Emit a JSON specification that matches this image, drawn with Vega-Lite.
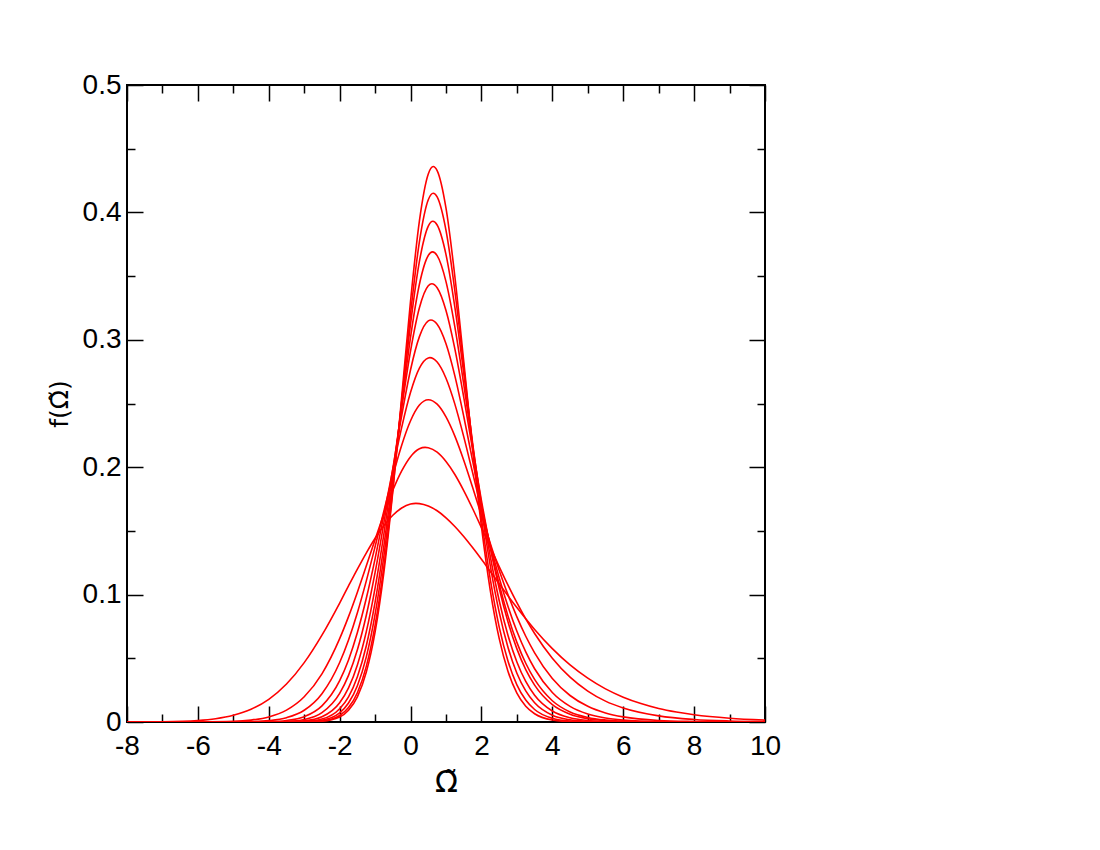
{
  "$schema": "https://vega.github.io/schema/vega-lite/v6.json",
  "autosize": {"type": "none"},
  "padding": {"left": 127, "top": 85, "right": 335, "bottom": 128},
  "width": 638,
  "height": 637,
  "background": "white",
  "config": {
    "view": {"stroke": "black", "strokeWidth": 2},
    "font": "Liberation Sans",
    "axis": {"grid": false, "labelFont": "Liberation Sans", "titleFont": "DejaVu Sans", "labelColor": "black", "titleColor": "black", "tickColor": "black", "domain": false, "labelFlush": false, "labelBound": false, "labelOverlap": false, "titleFontWeight": "normal"}
  },
  "data": {"values": [
    {"c":1,"x":-8,"y":0},{"c":1,"x":-3.5,"y":0},{"c":1,"x":-3,"y":0.0001},{"c":1,"x":-2.5,"y":0.0006},{"c":1,"x":-2,"y":0.0039},{"c":1,"x":-1.75,"y":0.0092},{"c":1,"x":-1.5,"y":0.0197},{"c":1,"x":-1.25,"y":0.039},{"c":1,"x":-1,"y":0.0708},{"c":1,"x":-0.75,"y":0.1181},{"c":1,"x":-0.5,"y":0.1811},{"c":1,"x":-0.25,"y":0.2552},{"c":1,"x":0,"y":0.3305},{"c":1,"x":0.25,"y":0.3934},{"c":1,"x":0.5,"y":0.4302},{"c":1,"x":0.64,"y":0.436},{"c":1,"x":0.75,"y":0.4328},{"c":1,"x":1,"y":0.4033},{"c":1,"x":1.25,"y":0.3497},{"c":1,"x":1.5,"y":0.2832},{"c":1,"x":1.75,"y":0.2149},{"c":1,"x":2,"y":0.1533},{"c":1,"x":2.25,"y":0.1032},{"c":1,"x":2.5,"y":0.0656},{"c":1,"x":2.75,"y":0.0396},{"c":1,"x":3,"y":0.0227},{"c":1,"x":3.25,"y":0.0124},{"c":1,"x":3.5,"y":0.0065},{"c":1,"x":4,"y":0.0016},{"c":1,"x":4.5,"y":0.0003},{"c":1,"x":5,"y":0.0001},{"c":1,"x":5.5,"y":0},{"c":1,"x":10,"y":0},
    {"c":2,"x":-8,"y":0},{"c":2,"x":-3.5,"y":0},{"c":2,"x":-3,"y":0.0001},{"c":2,"x":-2.5,"y":0.0008},{"c":2,"x":-2,"y":0.0051},{"c":2,"x":-1.75,"y":0.0113},{"c":2,"x":-1.5,"y":0.023},{"c":2,"x":-1.25,"y":0.0435},{"c":2,"x":-1,"y":0.076},{"c":2,"x":-0.75,"y":0.1226},{"c":2,"x":-0.5,"y":0.1827},{"c":2,"x":-0.25,"y":0.2517},{"c":2,"x":0,"y":0.3205},{"c":2,"x":0.25,"y":0.377},{"c":2,"x":0.5,"y":0.4099},{"c":2,"x":0.64,"y":0.415},{"c":2,"x":0.75,"y":0.4121},{"c":2,"x":1,"y":0.3859},{"c":2,"x":1.25,"y":0.3383},{"c":2,"x":1.5,"y":0.2788},{"c":2,"x":1.75,"y":0.2169},{"c":2,"x":2,"y":0.1598},{"c":2,"x":2.25,"y":0.1119},{"c":2,"x":2.5,"y":0.0747},{"c":2,"x":2.75,"y":0.0477},{"c":2,"x":3,"y":0.0292},{"c":2,"x":3.25,"y":0.0172},{"c":2,"x":3.5,"y":0.0098},{"c":2,"x":4,"y":0.0029},{"c":2,"x":4.5,"y":0.0007},{"c":2,"x":5,"y":0.0002},{"c":2,"x":5.5,"y":0},{"c":2,"x":10,"y":0},
    {"c":3,"x":-8,"y":0},{"c":3,"x":-3.5,"y":0},{"c":3,"x":-3,"y":0.0002},{"c":3,"x":-2.5,"y":0.0014},{"c":3,"x":-2,"y":0.0072},{"c":3,"x":-1.75,"y":0.0149},{"c":3,"x":-1.5,"y":0.0285},{"c":3,"x":-1.25,"y":0.0509},{"c":3,"x":-1,"y":0.0846},{"c":3,"x":-0.75,"y":0.1307},{"c":3,"x":-0.5,"y":0.1879},{"c":3,"x":-0.25,"y":0.2512},{"c":3,"x":0,"y":0.3124},{"c":3,"x":0.25,"y":0.3615},{"c":3,"x":0.5,"y":0.3892},{"c":3,"x":0.63,"y":0.393},{"c":3,"x":0.75,"y":0.3901},{"c":3,"x":1,"y":0.3669},{"c":3,"x":1.25,"y":0.3256},{"c":3,"x":1.5,"y":0.2738},{"c":3,"x":1.75,"y":0.2191},{"c":3,"x":2,"y":0.1674},{"c":3,"x":2.25,"y":0.1225},{"c":3,"x":2.5,"y":0.0862},{"c":3,"x":2.75,"y":0.0585},{"c":3,"x":3,"y":0.0383},{"c":3,"x":3.25,"y":0.0244},{"c":3,"x":3.5,"y":0.0151},{"c":3,"x":4,"y":0.0053},{"c":3,"x":4.5,"y":0.0017},{"c":3,"x":5,"y":0.0005},{"c":3,"x":5.5,"y":0.0001},{"c":3,"x":6,"y":0},{"c":3,"x":10,"y":0},
    {"c":4,"x":-8,"y":0},{"c":4,"x":-4,"y":0},{"c":4,"x":-3.5,"y":0.0001},{"c":4,"x":-3,"y":0.0004},{"c":4,"x":-2.5,"y":0.0023},{"c":4,"x":-2,"y":0.0104},{"c":4,"x":-1.75,"y":0.0198},{"c":4,"x":-1.5,"y":0.0356},{"c":4,"x":-1.25,"y":0.0597},{"c":4,"x":-1,"y":0.0941},{"c":4,"x":-0.75,"y":0.1389},{"c":4,"x":-0.5,"y":0.192},{"c":4,"x":-0.25,"y":0.2488},{"c":4,"x":0,"y":0.3021},{"c":4,"x":0.25,"y":0.3436},{"c":4,"x":0.5,"y":0.3662},{"c":4,"x":0.62,"y":0.369},{"c":4,"x":0.75,"y":0.3661},{"c":4,"x":1,"y":0.3457},{"c":4,"x":1.25,"y":0.3101},{"c":4,"x":1.5,"y":0.2652},{"c":4,"x":1.75,"y":0.2172},{"c":4,"x":2,"y":0.171},{"c":4,"x":2.25,"y":0.1299},{"c":4,"x":2.5,"y":0.0954},{"c":4,"x":2.75,"y":0.0679},{"c":4,"x":3,"y":0.0471},{"c":4,"x":3.25,"y":0.0318},{"c":4,"x":3.5,"y":0.021},{"c":4,"x":4,"y":0.0086},{"c":4,"x":4.5,"y":0.0033},{"c":4,"x":5,"y":0.0012},{"c":4,"x":5.5,"y":0.0004},{"c":4,"x":6,"y":0.0001},{"c":4,"x":7,"y":0},{"c":4,"x":10,"y":0},
    {"c":5,"x":-8,"y":0},{"c":5,"x":-4,"y":0},{"c":5,"x":-3.5,"y":0.0002},{"c":5,"x":-3,"y":0.0009},{"c":5,"x":-2.5,"y":0.0041},{"c":5,"x":-2,"y":0.0151},{"c":5,"x":-1.75,"y":0.0268},{"c":5,"x":-1.5,"y":0.0448},{"c":5,"x":-1.25,"y":0.0707},{"c":5,"x":-1,"y":0.1053},{"c":5,"x":-0.75,"y":0.1481},{"c":5,"x":-0.5,"y":0.1966},{"c":5,"x":-0.25,"y":0.2463},{"c":5,"x":0,"y":0.2913},{"c":5,"x":0.25,"y":0.3251},{"c":5,"x":0.5,"y":0.3424},{"c":5,"x":0.6,"y":0.344},{"c":5,"x":0.75,"y":0.3409},{"c":5,"x":1,"y":0.323},{"c":5,"x":1.25,"y":0.2929},{"c":5,"x":1.5,"y":0.255},{"c":5,"x":1.75,"y":0.214},{"c":5,"x":2,"y":0.1738},{"c":5,"x":2.25,"y":0.1369},{"c":5,"x":2.5,"y":0.105},{"c":5,"x":2.75,"y":0.0785},{"c":5,"x":3,"y":0.0574},{"c":5,"x":3.25,"y":0.0411},{"c":5,"x":3.5,"y":0.0289},{"c":5,"x":4,"y":0.0136},{"c":5,"x":4.5,"y":0.0061},{"c":5,"x":5,"y":0.0026},{"c":5,"x":5.5,"y":0.0011},{"c":5,"x":6,"y":0.0004},{"c":5,"x":7,"y":0.0001},{"c":5,"x":8,"y":0},{"c":5,"x":10,"y":0},
    {"c":6,"x":-8,"y":0},{"c":6,"x":-4.5,"y":0},{"c":6,"x":-4,"y":0.0001},{"c":6,"x":-3.5,"y":0.0004},{"c":6,"x":-3,"y":0.0019},{"c":6,"x":-2.5,"y":0.0073},{"c":6,"x":-2,"y":0.0225},{"c":6,"x":-1.75,"y":0.0366},{"c":6,"x":-1.5,"y":0.0567},{"c":6,"x":-1.25,"y":0.0836},{"c":6,"x":-1,"y":0.1174},{"c":6,"x":-0.75,"y":0.1567},{"c":6,"x":-0.5,"y":0.199},{"c":6,"x":-0.25,"y":0.2405},{"c":6,"x":0,"y":0.2765},{"c":6,"x":0.25,"y":0.3025},{"c":6,"x":0.5,"y":0.3148},{"c":6,"x":0.575,"y":0.3155},{"c":6,"x":0.75,"y":0.3122},{"c":6,"x":1,"y":0.2969},{"c":6,"x":1.25,"y":0.2717},{"c":6,"x":1.5,"y":0.24},{"c":6,"x":1.75,"y":0.2051},{"c":6,"x":2,"y":0.1702},{"c":6,"x":2.25,"y":0.1374},{"c":6,"x":2.5,"y":0.1081},{"c":6,"x":2.75,"y":0.0831},{"c":6,"x":3,"y":0.0625},{"c":6,"x":3.25,"y":0.0461},{"c":6,"x":3.5,"y":0.0334},{"c":6,"x":4,"y":0.0167},{"c":6,"x":4.5,"y":0.0079},{"c":6,"x":5,"y":0.0036},{"c":6,"x":5.5,"y":0.0016},{"c":6,"x":6,"y":0.0007},{"c":6,"x":7,"y":0.0001},{"c":6,"x":8,"y":0},{"c":6,"x":10,"y":0},
    {"c":7,"x":-8,"y":0},{"c":7,"x":-5,"y":0},{"c":7,"x":-4.5,"y":0.0001},{"c":7,"x":-4,"y":0.0003},{"c":7,"x":-3.5,"y":0.0012},{"c":7,"x":-3,"y":0.0042},{"c":7,"x":-2.5,"y":0.0127},{"c":7,"x":-2,"y":0.0325},{"c":7,"x":-1.75,"y":0.0487},{"c":7,"x":-1.5,"y":0.0702},{"c":7,"x":-1.25,"y":0.0969},{"c":7,"x":-1,"y":0.1283},{"c":7,"x":-0.75,"y":0.1628},{"c":7,"x":-0.5,"y":0.1982},{"c":7,"x":-0.25,"y":0.2313},{"c":7,"x":0,"y":0.2588},{"c":7,"x":0.25,"y":0.2778},{"c":7,"x":0.5,"y":0.2858},{"c":7,"x":0.545,"y":0.286},{"c":7,"x":0.75,"y":0.2825},{"c":7,"x":1,"y":0.2698},{"c":7,"x":1.25,"y":0.2495},{"c":7,"x":1.5,"y":0.224},{"c":7,"x":1.75,"y":0.1958},{"c":7,"x":2,"y":0.1669},{"c":7,"x":2.25,"y":0.139},{"c":7,"x":2.5,"y":0.1133},{"c":7,"x":2.75,"y":0.0906},{"c":7,"x":3,"y":0.0712},{"c":7,"x":3.25,"y":0.055},{"c":7,"x":3.5,"y":0.0418},{"c":7,"x":4,"y":0.0232},{"c":7,"x":4.5,"y":0.0123},{"c":7,"x":5,"y":0.0063},{"c":7,"x":5.5,"y":0.0031},{"c":7,"x":6,"y":0.0015},{"c":7,"x":7,"y":0.0003},{"c":7,"x":8,"y":0.0001},{"c":7,"x":9,"y":0},{"c":7,"x":10,"y":0},
    {"c":8,"x":-8,"y":0},{"c":8,"x":-6,"y":0},{"c":8,"x":-5,"y":0.0001},{"c":8,"x":-4.5,"y":0.0003},{"c":8,"x":-4,"y":0.0011},{"c":8,"x":-3.5,"y":0.0034},{"c":8,"x":-3,"y":0.0092},{"c":8,"x":-2.5,"y":0.0222},{"c":8,"x":-2,"y":0.0467},{"c":8,"x":-1.75,"y":0.0644},{"c":8,"x":-1.5,"y":0.0858},{"c":8,"x":-1.25,"y":0.1106},{"c":8,"x":-1,"y":0.1377},{"c":8,"x":-0.75,"y":0.1658},{"c":8,"x":-0.5,"y":0.1931},{"c":8,"x":-0.25,"y":0.2173},{"c":8,"x":0,"y":0.2365},{"c":8,"x":0.25,"y":0.2488},{"c":8,"x":0.5,"y":0.253},{"c":8,"x":0.75,"y":0.2495},{"c":8,"x":1,"y":0.2395},{"c":8,"x":1.25,"y":0.2244},{"c":8,"x":1.5,"y":0.2055},{"c":8,"x":1.75,"y":0.1843},{"c":8,"x":2,"y":0.1621},{"c":8,"x":2.25,"y":0.1401},{"c":8,"x":2.5,"y":0.1192},{"c":8,"x":2.75,"y":0.0998},{"c":8,"x":3,"y":0.0825},{"c":8,"x":3.25,"y":0.0673},{"c":8,"x":3.5,"y":0.0543},{"c":8,"x":4,"y":0.0342},{"c":8,"x":4.5,"y":0.0208},{"c":8,"x":5,"y":0.0123},{"c":8,"x":5.5,"y":0.0071},{"c":8,"x":6,"y":0.004},{"c":8,"x":7,"y":0.0012},{"c":8,"x":8,"y":0.0004},{"c":8,"x":9,"y":0.0001},{"c":8,"x":10,"y":0},
    {"c":9,"x":-8,"y":0},{"c":9,"x":-7,"y":0},{"c":9,"x":-6,"y":0.0001},{"c":9,"x":-5,"y":0.0005},{"c":9,"x":-4.5,"y":0.0015},{"c":9,"x":-4,"y":0.004},{"c":9,"x":-3.5,"y":0.0093},{"c":9,"x":-3,"y":0.0198},{"c":9,"x":-2.5,"y":0.0378},{"c":9,"x":-2,"y":0.0654},{"c":9,"x":-1.75,"y":0.0827},{"c":9,"x":-1.5,"y":0.1019},{"c":9,"x":-1.25,"y":0.1224},{"c":9,"x":-1,"y":0.1433},{"c":9,"x":-0.75,"y":0.1635},{"c":9,"x":-0.5,"y":0.1819},{"c":9,"x":-0.25,"y":0.1971},{"c":9,"x":0,"y":0.2083},{"c":9,"x":0.25,"y":0.2145},{"c":9,"x":0.41,"y":0.2156},{"c":9,"x":0.5,"y":0.2153},{"c":9,"x":0.75,"y":0.2118},{"c":9,"x":1,"y":0.2045},{"c":9,"x":1.25,"y":0.1943},{"c":9,"x":1.5,"y":0.1817},{"c":9,"x":1.75,"y":0.1676},{"c":9,"x":2,"y":0.1525},{"c":9,"x":2.25,"y":0.1372},{"c":9,"x":2.5,"y":0.122},{"c":9,"x":2.75,"y":0.1074},{"c":9,"x":3,"y":0.0937},{"c":9,"x":3.25,"y":0.081},{"c":9,"x":3.5,"y":0.0695},{"c":9,"x":4,"y":0.0501},{"c":9,"x":4.5,"y":0.0352},{"c":9,"x":5,"y":0.0243},{"c":9,"x":5.5,"y":0.0164},{"c":9,"x":6,"y":0.011},{"c":9,"x":7,"y":0.0048},{"c":9,"x":8,"y":0.002},{"c":9,"x":9,"y":0.0008},{"c":9,"x":10,"y":0.0003},
    {"c":10,"x":-8,"y":0},{"c":10,"x":-7,"y":0.0002},{"c":10,"x":-6,"y":0.0012},{"c":10,"x":-5.5,"y":0.0026},{"c":10,"x":-5,"y":0.0053},{"c":10,"x":-4.5,"y":0.01},{"c":10,"x":-4,"y":0.0178},{"c":10,"x":-3.5,"y":0.0298},{"c":10,"x":-3,"y":0.0466},{"c":10,"x":-2.5,"y":0.0682},{"c":10,"x":-2,"y":0.0934},{"c":10,"x":-1.75,"y":0.1068},{"c":10,"x":-1.5,"y":0.12},{"c":10,"x":-1.25,"y":0.1326},{"c":10,"x":-1,"y":0.1442},{"c":10,"x":-0.75,"y":0.1543},{"c":10,"x":-0.5,"y":0.1623},{"c":10,"x":-0.25,"y":0.168},{"c":10,"x":0,"y":0.1711},{"c":10,"x":0.15,"y":0.1716},{"c":10,"x":0.25,"y":0.1714},{"c":10,"x":0.5,"y":0.1695},{"c":10,"x":0.75,"y":0.1658},{"c":10,"x":1,"y":0.1603},{"c":10,"x":1.25,"y":0.1535},{"c":10,"x":1.5,"y":0.1456},{"c":10,"x":1.75,"y":0.1369},{"c":10,"x":2,"y":0.1277},{"c":10,"x":2.25,"y":0.1181},{"c":10,"x":2.5,"y":0.1085},{"c":10,"x":2.75,"y":0.099},{"c":10,"x":3,"y":0.0898},{"c":10,"x":3.25,"y":0.081},{"c":10,"x":3.5,"y":0.0726},{"c":10,"x":4,"y":0.0576},{"c":10,"x":4.5,"y":0.0448},{"c":10,"x":5,"y":0.0344},{"c":10,"x":5.5,"y":0.026},{"c":10,"x":6,"y":0.0195},{"c":10,"x":6.5,"y":0.0145},{"c":10,"x":7,"y":0.0106},{"c":10,"x":7.5,"y":0.0078},{"c":10,"x":8,"y":0.0057},{"c":10,"x":9,"y":0.003},{"c":10,"x":10,"y":0.0015}
  ]},
  "resolve": {"scale": {"x": "shared", "y": "shared"}, "axis": {"x": "independent", "y": "independent"}},
  "layer": [
    {
      "mark": {"type": "line", "color": "#ff0000", "strokeWidth": 1.6, "interpolate": "monotone", "clip": true},
      "encoding": {
        "x": {"field": "x", "type": "quantitative", "scale": {"domain": [-8, 10], "nice": false, "zero": false},
              "axis": {"orient": "bottom", "values": [-8,-6,-4,-2,0,2,4,6,8,10], "ticks": false, "labelFontSize": 28, "labelPadding": 10, "labelExpr": "'' + datum.value", "title": "Ω̃", "titleFontSize": 30, "titlePadding": 7}},
        "y": {"field": "y", "type": "quantitative", "scale": {"domain": [0, 0.5], "nice": false, "zero": false},
              "axis": {"orient": "left", "values": [0,0.1,0.2,0.3,0.4,0.5], "ticks": false, "labelFontSize": 28, "labelPadding": 6, "labelExpr": "'' + datum.value", "title": "f(Ω̃)", "titleFontSize": 25, "titlePadding": 10}},
        "detail": {"field": "c", "type": "nominal"}
      }
    },
    {
      "mark": {"type": "point", "opacity": 0},
      "encoding": {
        "x": {"field": "x", "type": "quantitative", "axis": {"orient": "bottom", "values": [-8,-6,-4,-2,0,2,4,6,8,10], "labels": false, "tickSize": -16, "tickWidth": 1.5, "title": null}},
        "y": {"field": "y", "type": "quantitative", "axis": {"orient": "left", "values": [0,0.1,0.2,0.3,0.4,0.5], "labels": false, "tickSize": -16, "tickWidth": 1.5, "title": null}}
      }
    },
    {
      "mark": {"type": "point", "opacity": 0},
      "encoding": {
        "x": {"field": "x", "type": "quantitative", "axis": {"orient": "bottom", "values": [-7,-5,-3,-1,1,3,5,7,9], "labels": false, "tickSize": -8, "tickWidth": 1.5, "title": null}},
        "y": {"field": "y", "type": "quantitative", "axis": {"orient": "left", "values": [0.05,0.15,0.25,0.35,0.45], "labels": false, "tickSize": -8, "tickWidth": 1.5, "title": null}}
      }
    },
    {
      "mark": {"type": "point", "opacity": 0},
      "encoding": {
        "x": {"field": "x", "type": "quantitative", "axis": {"orient": "top", "values": [-8,-6,-4,-2,0,2,4,6,8,10], "labels": false, "tickSize": -16, "tickWidth": 1.5, "title": null}},
        "y": {"field": "y", "type": "quantitative", "axis": {"orient": "right", "values": [0,0.1,0.2,0.3,0.4,0.5], "labels": false, "tickSize": -16, "tickWidth": 1.5, "title": null}}
      }
    },
    {
      "mark": {"type": "point", "opacity": 0},
      "encoding": {
        "x": {"field": "x", "type": "quantitative", "axis": {"orient": "top", "values": [-7,-5,-3,-1,1,3,5,7,9], "labels": false, "tickSize": -8, "tickWidth": 1.5, "title": null}},
        "y": {"field": "y", "type": "quantitative", "axis": {"orient": "right", "values": [0.05,0.15,0.25,0.35,0.45], "labels": false, "tickSize": -8, "tickWidth": 1.5, "title": null}}
      }
    }
  ]
}
